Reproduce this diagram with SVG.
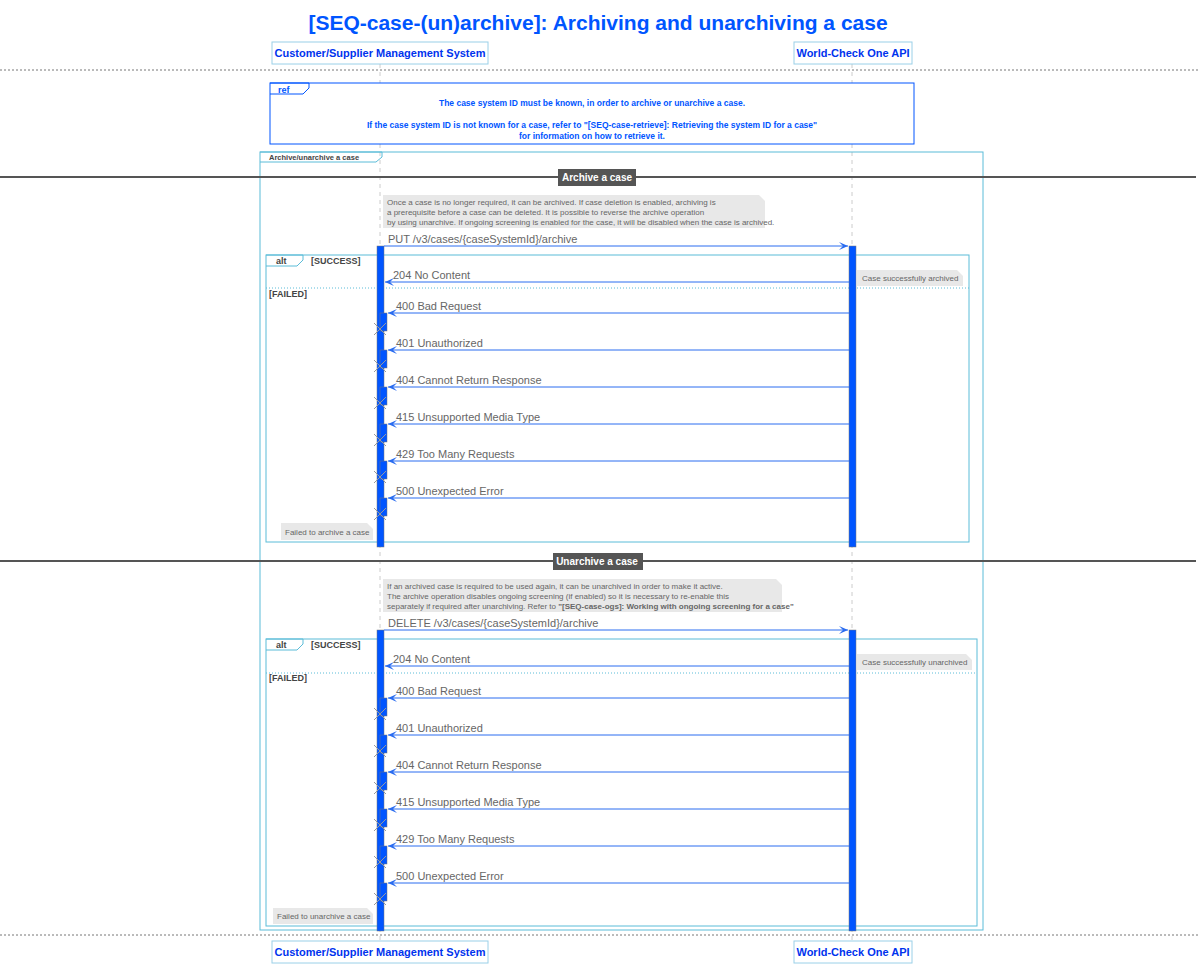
<svg xmlns="http://www.w3.org/2000/svg" width="1200" height="965" viewBox="0 0 1200 965">
<defs>
<style>
text{font-family:"Liberation Sans",Arial,sans-serif}
.t{font-size:11px;fill:#666}
.b{font-size:9px;fill:#444;font-weight:bold}
.note{fill:#e8e8e8}
.nt{font-size:8px;fill:#666}
.msg{stroke:#2a6cf0;stroke-width:1;fill:none}
.act{fill:#0055ff;stroke:#777;stroke-width:0.5}
.x{stroke:#999;stroke-width:1}
.part{fill:#fff;stroke:#9ad0e8}
.pt{font-size:11px;font-weight:bold;fill:#0033ee}
.frame{fill:none;stroke:#5bbcd8}
.div{stroke:#555;stroke-width:2}
</style>
<marker id="ah" markerWidth="10" markerHeight="8" refX="9" refY="4" orient="auto" markerUnits="userSpaceOnUse"><path d="M0,0 L9,4 L0,8 L4,4 Z" fill="#2a6cf0"/></marker>
</defs>
<rect width="1200" height="965" fill="#fff"/>
<text x="598" y="30" font-size="21" font-weight="bold" fill="#0055ff" text-anchor="middle">[SEQ-case-(un)archive]: Archiving and unarchiving a case</text>
<line x1="0" y1="70" x2="1200" y2="70" stroke="#777" stroke-dasharray="2,2"/>
<line x1="0" y1="935" x2="1200" y2="935" stroke="#777" stroke-dasharray="2,2"/>
<g id="lifelines" stroke="#ccc" stroke-dasharray="4,4">
<line x1="380" y1="64" x2="380" y2="941"/><line x1="852" y1="64" x2="852" y2="941"/>
</g>
<g id="p1"><rect class="part" x="272" y="42" width="216" height="22"/><text class="pt" x="380" y="57" text-anchor="middle">Customer/Supplier Management System</text>
<rect class="part" x="272" y="941" width="216" height="22"/><text class="pt" x="380" y="956" text-anchor="middle">Customer/Supplier Management System</text></g>
<g id="p2"><rect class="part" x="794" y="42" width="118" height="22"/><text class="pt" x="853" y="57" text-anchor="middle">World-Check One API</text>
<rect class="part" x="794" y="941" width="118" height="22"/><text class="pt" x="853" y="956" text-anchor="middle">World-Check One API</text></g>
<g id="ref">
<rect x="270" y="83" width="644" height="61" fill="#fff" stroke="#0055ff"/>
<path d="M270,83 H309 V88 L303,94 H270" fill="none" stroke="#0055ff"/>
<text x="278" y="93" font-size="9" font-weight="bold" fill="#0055ff">ref</text>
<g font-size="8.5" font-weight="bold" fill="#0055ff" text-anchor="middle">
<text x="592" y="106">The case system ID must be known, in order to archive or unarchive a case.</text>
<text x="592" y="128">If the case system ID is not known for a case, refer to "[SEQ-case-retrieve]: Retrieving the system ID for a case"</text>
<text x="592" y="139">for information on how to retrieve it.</text></g>
</g>
<g id="group">
<rect class="frame" x="260" y="152" width="723" height="778"/>
<path d="M260,152 H382 V157 L376,162 H260" class="frame"/>
<text x="269" y="160" font-size="7.5" font-weight="bold" fill="#444">Archive/unarchive a case</text>
</g>
<g id="dividers">
<line class="div" x1="0" y1="177" x2="1196" y2="177"/>
<rect x="558" y="169" width="78" height="17" fill="#555"/>
<text x="597" y="181" font-size="10" font-weight="bold" fill="#fff" text-anchor="middle">Archive a case</text>
<line class="div" x1="0" y1="561" x2="1196" y2="561"/>
<rect x="553" y="553" width="90" height="17" fill="#555"/>
<text x="597" y="565" font-size="10" font-weight="bold" fill="#fff" text-anchor="middle">Unarchive a case</text>
</g>
<g id="notes">
<path class="note" d="M383,195 H759 L765,201 V228 H383 Z"/>
<text class="nt" x="387" y="205">Once a case is no longer required, it can be archived. If case deletion is enabled, archiving is</text>
<text class="nt" x="387" y="215">a prerequisite before a case can be deleted. It is possible to reverse the archive operation</text>
<text class="nt" x="387" y="225">by using unarchive. If ongoing screening is enabled for the case, it will be disabled when the case is archived.</text>
<path class="note" d="M383,579 H776 L782,585 V612 H383 Z"/>
<text class="nt" x="387" y="589">If an archived case is required to be used again, it can be unarchived in order to make it active.</text>
<text class="nt" x="387" y="599">The archive operation disables ongoing screening (if enabled) so it is necessary to re-enable this</text>
<text class="nt" x="387" y="609">separately if required after unarchiving. Refer to <tspan font-weight="bold">"[SEQ-case-ogs]: Working with ongoing screening for a case"</tspan></text>
<path class="note" d="M857,270 H957 L963,276 V286 H857 Z"/><text class="nt" x="862" y="281">Case successfully archived</text>
<path class="note" d="M857,654 H966 L972,660 V670 H857 Z"/><text class="nt" x="862" y="665">Case successfully unarchived</text>
<path class="note" d="M281,523 H367 L373,529 V540 H281 Z"/><text class="nt" x="285" y="535">Failed to archive a case</text>
<path class="note" d="M273,908 H367 L373,914 V924 H273 Z"/><text class="nt" x="277" y="919">Failed to unarchive a case</text>
</g>
<g id="alts">
<rect class="frame" x="266" y="255" width="703" height="287"/>
<path d="M266,255 H303 V260 L297,266 H266" class="frame"/>
<text x="276" y="264" class="b">alt</text><text x="311" y="264" class="b">[SUCCESS]</text>
<line x1="266" y1="288" x2="969" y2="288" stroke="#5bbcd8" stroke-dasharray="1,2"/>
<text x="269" y="297" class="b">[FAILED]</text>
<rect class="frame" x="266" y="639" width="711" height="287"/>
<path d="M266,639 H303 V644 L297,650 H266" class="frame"/>
<text x="276" y="648" class="b">alt</text><text x="311" y="648" class="b">[SUCCESS]</text>
<line x1="266" y1="673" x2="977" y2="673" stroke="#5bbcd8" stroke-dasharray="1,2"/>
<text x="269" y="681" class="b">[FAILED]</text>
</g>
<g id="activations">
<rect class="act" x="377" y="246" width="7" height="301"/>
<rect class="act" x="849" y="246" width="7" height="301"/>
<rect class="act" x="377" y="630" width="7" height="301"/>
<rect class="act" x="849" y="630" width="7" height="301"/>
</g>
<g id="connectors">
<line class="msg" x1="384" y1="246" x2="848" y2="246" marker-end="url(#ah)"/>
<text class="t" x="388" y="243" font-size="9">PUT /v3/cases/{caseSystemId}/archive</text>
<line class="msg" x1="849" y1="282" x2="385" y2="282" marker-end="url(#ah)"/>
<text class="t" x="393" y="279" font-size="9">204 No Content</text>
<line class="msg" x1="384" y1="630" x2="848" y2="630" marker-end="url(#ah)"/>
<text class="t" x="388" y="627" font-size="9">DELETE /v3/cases/{caseSystemId}/archive</text>
<line class="msg" x1="849" y1="666" x2="385" y2="666" marker-end="url(#ah)"/>
<text class="t" x="393" y="663" font-size="9">204 No Content</text>
</g>
<g id="errors" font-size="9">
<g id="e1"><rect class="act" x="380" y="313" width="7" height="18"/><line class="msg" x1="849" y1="313" x2="388" y2="313" marker-end="url(#ah)"/><text class="t" x="396" y="310" font-size="9">400 Bad Request</text><path class="x" d="M374,323 L386,335 M386,323 L374,335"/></g>
<g id="e2"><rect class="act" x="380" y="350" width="7" height="18"/><line class="msg" x1="849" y1="350" x2="388" y2="350" marker-end="url(#ah)"/><text class="t" x="396" y="347" font-size="9">401 Unauthorized</text><path class="x" d="M374,360 L386,372 M386,360 L374,372"/></g>
<g id="e3"><rect class="act" x="380" y="387" width="7" height="18"/><line class="msg" x1="849" y1="387" x2="388" y2="387" marker-end="url(#ah)"/><text class="t" x="396" y="384" font-size="9">404 Cannot Return Response</text><path class="x" d="M374,397 L386,409 M386,397 L374,409"/></g>
<g id="e4"><rect class="act" x="380" y="424" width="7" height="18"/><line class="msg" x1="849" y1="424" x2="388" y2="424" marker-end="url(#ah)"/><text class="t" x="396" y="421" font-size="9">415 Unsupported Media Type</text><path class="x" d="M374,434 L386,446 M386,434 L374,446"/></g>
<g id="e5"><rect class="act" x="380" y="461" width="7" height="18"/><line class="msg" x1="849" y1="461" x2="388" y2="461" marker-end="url(#ah)"/><text class="t" x="396" y="458" font-size="9">429 Too Many Requests</text><path class="x" d="M374,471 L386,483 M386,471 L374,483"/></g>
<g id="e6"><rect class="act" x="380" y="498" width="7" height="18"/><line class="msg" x1="849" y1="498" x2="388" y2="498" marker-end="url(#ah)"/><text class="t" x="396" y="495" font-size="9">500 Unexpected Error</text><path class="x" d="M374,508 L386,520 M386,508 L374,520"/></g>
<g id="f1"><rect class="act" x="380" y="698" width="7" height="18"/><line class="msg" x1="849" y1="698" x2="388" y2="698" marker-end="url(#ah)"/><text class="t" x="396" y="695" font-size="9">400 Bad Request</text><path class="x" d="M374,708 L386,720 M386,708 L374,720"/></g>
<g id="f2"><rect class="act" x="380" y="735" width="7" height="18"/><line class="msg" x1="849" y1="735" x2="388" y2="735" marker-end="url(#ah)"/><text class="t" x="396" y="732" font-size="9">401 Unauthorized</text><path class="x" d="M374,745 L386,757 M386,745 L374,757"/></g>
<g id="f3"><rect class="act" x="380" y="772" width="7" height="18"/><line class="msg" x1="849" y1="772" x2="388" y2="772" marker-end="url(#ah)"/><text class="t" x="396" y="769" font-size="9">404 Cannot Return Response</text><path class="x" d="M374,782 L386,794 M386,782 L374,794"/></g>
<g id="f4"><rect class="act" x="380" y="809" width="7" height="18"/><line class="msg" x1="849" y1="809" x2="388" y2="809" marker-end="url(#ah)"/><text class="t" x="396" y="806" font-size="9">415 Unsupported Media Type</text><path class="x" d="M374,819 L386,831 M386,819 L374,831"/></g>
<g id="f5"><rect class="act" x="380" y="846" width="7" height="18"/><line class="msg" x1="849" y1="846" x2="388" y2="846" marker-end="url(#ah)"/><text class="t" x="396" y="843" font-size="9">429 Too Many Requests</text><path class="x" d="M374,856 L386,868 M386,856 L374,868"/></g>
<g id="f6"><rect class="act" x="380" y="883" width="7" height="18"/><line class="msg" x1="849" y1="883" x2="388" y2="883" marker-end="url(#ah)"/><text class="t" x="396" y="880" font-size="9">500 Unexpected Error</text><path class="x" d="M374,893 L386,905 M386,893 L374,905"/></g>
</g>
</svg>
